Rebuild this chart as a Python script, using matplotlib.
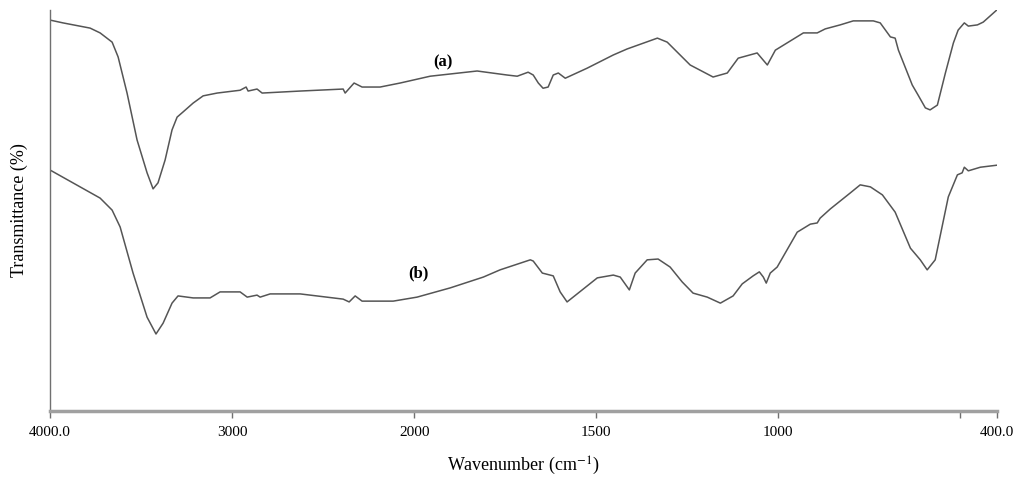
import numpy as np
import matplotlib
matplotlib.use("Agg")
import matplotlib.pyplot as plt

plt.rcParams['font.family'] = ['Liberation Serif', 'DejaVu Serif']
plt.rcParams['mathtext.fontset'] = 'stix'

# FTIR spectra (wavenumber in cm-1, transmittance in %)
wn_a = [4000, 3929, 3780, 3725, 3659, 3626, 3577, 3522, 3467, 3434, 3407, 3368,
        3330, 3302, 3269, 3214, 3159, 3082, 2956, 2923, 2912, 2863, 2835, 2626,
        2390, 2379, 2330, 2286, 2187, 2077, 1956, 1827, 1745, 1717, 1687, 1673,
        1659, 1646, 1632, 1618, 1604, 1585, 1525, 1453, 1415, 1332, 1305, 1242,
        1179, 1140, 1110, 1058, 1030, 1008, 931, 893, 871, 830, 794, 739, 720,
        692, 679, 670, 632, 616, 596, 583, 563, 541, 519, 506, 489, 478, 453,
        437, 400]
tr_a = [97.5, 96.8, 95.5, 94.3, 92.0, 88.3, 79.3, 67.6, 59.4, 55.4, 56.9, 62.6,
        70.1, 73.3, 74.6, 76.8, 78.6, 79.3, 80.0, 80.8, 79.8, 80.3, 79.3, 79.8,
        80.3, 79.3, 81.8, 80.8, 80.8, 81.8, 83.5, 84.8, 83.8, 83.5, 84.5, 83.8,
        81.8, 80.5, 80.8, 83.8, 84.3, 83.0, 85.5, 88.8, 90.3, 93.0, 92.0, 86.3,
        83.3, 84.3, 88.0, 89.3, 86.3, 90.0, 94.3, 94.3, 95.3, 96.3, 97.3, 97.3,
        96.8, 93.3, 93.0, 90.0, 81.3, 78.8, 75.6, 75.1, 76.3, 84.3, 91.8, 95.0,
        96.8, 96.0, 96.3, 97.0, 100.0]

wn_b = [4000, 3835, 3725, 3659, 3615, 3544, 3467, 3418, 3379, 3330, 3297, 3214,
        3121, 3066, 2956, 2917, 2863, 2846, 2791, 2626, 2390, 2357, 2324, 2286,
        2115, 1992, 1901, 1810, 1764, 1681, 1673, 1648, 1618, 1599, 1580, 1497,
        1453, 1434, 1409, 1393, 1360, 1330, 1297, 1264, 1234, 1195, 1159, 1124,
        1099, 1069, 1052, 1041, 1033, 1022, 1003, 948, 912, 893, 885, 857, 802,
        775, 747, 714, 679, 637, 610, 591, 569, 533, 508, 495, 489, 478, 445,
        400]
tr_b = [60.1, 55.9, 53.1, 50.1, 45.9, 34.4, 23.4, 19.2, 21.9, 26.9, 28.7, 28.2,
        28.2, 29.7, 29.7, 28.4, 28.9, 28.4, 29.2, 29.2, 27.9, 27.2, 28.7, 27.4,
        27.4, 28.4, 30.7, 33.4, 35.2, 37.7, 37.4, 34.4, 33.7, 29.7, 27.2, 33.2,
        33.9, 33.4, 30.2, 34.4, 37.7, 37.9, 35.9, 32.2, 29.4, 28.4, 26.9, 28.7,
        31.7, 33.7, 34.7, 33.4, 31.9, 34.4, 35.9, 44.6, 46.6, 46.9, 48.1, 50.4,
        54.4, 56.4, 55.9, 53.9, 49.6, 40.6, 37.7, 35.2, 37.7, 53.4, 58.9, 59.4,
        60.8, 59.9, 60.8, 61.3]

tick_pos = [4000, 3000, 2000, 1500, 1000, 500, 400]
tick_lbl = ['4000.0', '3000', '2000', '1500', '1000', '', '400.0']


# instrument axis: region above 2000 cm-1 is drawn at half scale
def fwd(w):
    w = np.asarray(w, dtype=float)
    return np.where(w > 2000, 2000 + (w - 2000) / 2, w)


def inv(u):
    u = np.asarray(u, dtype=float)
    return np.where(u > 2000, 2000 + (u - 2000) * 2, u)


fig = plt.figure(figsize=(10.15, 4.79), dpi=100)
ax = fig.add_axes([0.0493, 0.142, 0.9327, 0.837])
ax.set_xscale('function', functions=(fwd, inv))

ax.plot(wn_a, tr_a, color='#555555', lw=1.1)
ax.plot(wn_b, tr_b, color='#555555', lw=1.1)

ax.text(1920, 87, '(a)', fontsize=12, fontweight='bold', ha='center', va='center')
ax.text(1989, 34.4, '(b)', fontsize=12, fontweight='bold', ha='center', va='center')

ax.set_xlim(4000, 400)
ax.set_ylim(0, 100)
ax.set_xticks(tick_pos)
ax.set_xticklabels(tick_lbl)
ax.xaxis.set_minor_locator(matplotlib.ticker.NullLocator())
ax.set_yticks([])
ax.tick_params(axis='x', direction='out', length=5, width=1, color='#707070',
               labelsize=11, pad=6)

for s in ['top', 'right']:
    ax.spines[s].set_visible(False)
ax.spines['left'].set_color('#707070')
ax.spines['left'].set_linewidth(1.0)
ax.spines['bottom'].set_color('#a0a0a0')
ax.spines['bottom'].set_linewidth(2.5)

ax.set_xlabel(r'Wavenumber (cm$^{-1}$)', fontsize=13, labelpad=11)
ax.set_ylabel('Transmittance (%)', fontsize=13, labelpad=16)

fig.savefig('out.png', dpi=100)
